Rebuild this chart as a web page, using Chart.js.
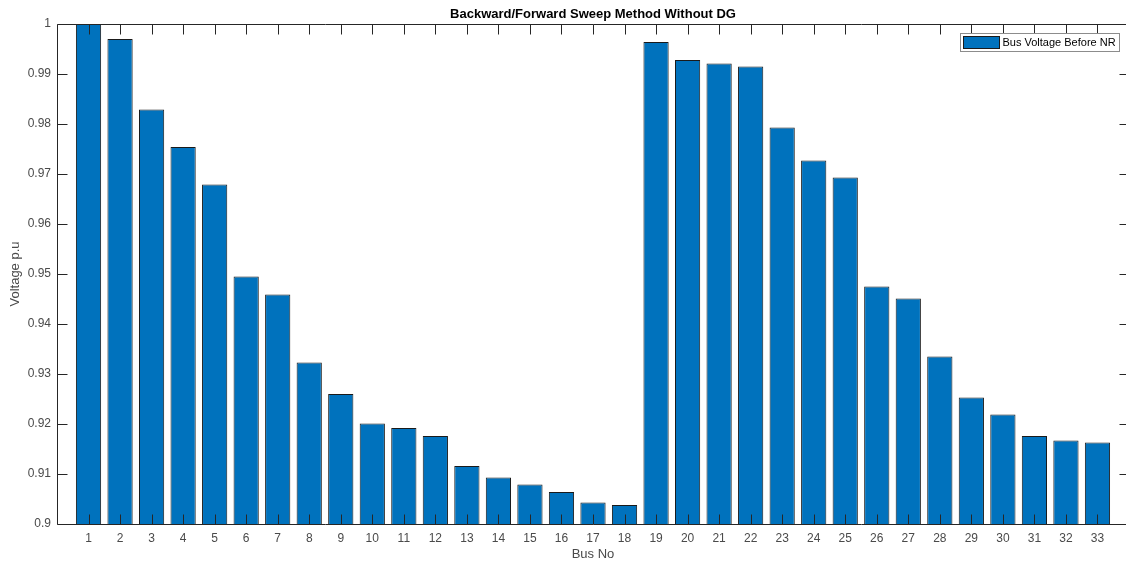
<!DOCTYPE html>
<html>
<head>
<meta charset="utf-8">
<title>Backward/Forward Sweep Method Without DG</title>
<script src="https://cdn.jsdelivr.net/npm/chart.js@4/dist/chart.umd.min.js"></script>
<style>
  html, body { margin: 0; padding: 0; background: #ffffff; overflow: hidden; }
  #wrap { width: 1126px; height: 562px; overflow: hidden; }
  canvas { display: block; }
</style>
</head>
<body>
<div id="wrap"><canvas id="chart" width="1136" height="562"></canvas></div>
<script>
// Bus numbers of the 33-bus feeder
const busNumbers = [1, 2, 3, 4, 5, 6, 7, 8, 9, 10, 11, 12, 13, 14, 15, 16, 17,
                    18, 19, 20, 21, 22, 23, 24, 25, 26, 27, 28, 29, 30, 31, 32, 33];
// Bus voltage magnitudes (p.u.) from the backward/forward sweep, no DG
const busVoltage = [1.0000, 0.9970, 0.9829, 0.9754, 0.9679, 0.9495, 0.9459, 0.9323,
                    0.9260, 0.9201, 0.9192, 0.9176, 0.9116, 0.9093, 0.9079, 0.9064,
                    0.9043, 0.9038, 0.9964, 0.9928, 0.9921, 0.9915, 0.9793, 0.9727,
                    0.9693, 0.9475, 0.9451, 0.9335, 0.9253, 0.9219, 0.9176, 0.9167,
                    0.9163];
const seriesLabel = 'Bus Voltage Before NR';
const titleText = 'Backward/Forward Sweep Method Without DG';
const xAxisTitle = 'Bus No';
const yAxisTitle = 'Voltage p.u';
const yTickValues = [0.9, 0.91, 0.92, 0.93, 0.94, 0.95, 0.96, 0.97, 0.98, 0.99, 1];

const FONT = '"Liberation Sans", Arial, Helvetica, sans-serif';
const AXIS_COLOR = '#262626';
const TICK_TEXT = '#4a4a4a';
const BAR_FILL = '#0072BD';
const BAR_EDGE = '#1a1a1a';

// Boxed axes with inward tick marks on all four sides, plus the title
const boxAxes = {
  id: 'boxAxes',
  afterDatasetsDraw(chart) {
    const { ctx, chartArea: a, scales } = chart;
    const L = Math.round(a.left) + 0.5, R = Math.round(a.right) + 0.5;
    const T = Math.round(a.top) + 0.5, B = Math.round(a.bottom) + 0.5;
    const len = 10;
    ctx.save();
    ctx.strokeStyle = AXIS_COLOR;
    ctx.lineWidth = 1;
    ctx.beginPath();
    ctx.rect(L, T, R - L, B - T);
    busNumbers.forEach(b => {
      const x = Math.round(scales.x.getPixelForValue(b)) + 0.5;
      ctx.moveTo(x, B); ctx.lineTo(x, B - len);
      ctx.moveTo(x, T); ctx.lineTo(x, T + len);
    });
    yTickValues.forEach(v => {
      const y = Math.round(scales.y.getPixelForValue(v)) + 0.5;
      ctx.moveTo(L, y); ctx.lineTo(L + len, y);
      ctx.moveTo(R, y); ctx.lineTo(R - len, y);
    });
    ctx.stroke();

    // title
    ctx.fillStyle = '#000000';
    ctx.font = 'bold 13px ' + FONT;
    ctx.textAlign = 'center';
    ctx.textBaseline = 'middle';
    ctx.fillText(titleText, (a.left + a.right) / 2, 14);
    ctx.restore();
  }
};

// Legend box in the upper right corner of the axes
const boxLegend = {
  id: 'boxLegend',
  afterDatasetsDraw(chart) {
    const { ctx, chartArea: a } = chart;
    const ds = chart.data.datasets[0];
    ctx.save();
    ctx.font = '11px ' + FONT;
    const tw = ctx.measureText(ds.label).width;
    const patchW = 36, patchH = 12;
    const w = Math.round(3 + patchW + 3 + tw + 4);
    const h = 18;
    const right = Math.round(a.right) - 10;
    const x = right - w + 0.5, y = Math.round(a.top) + 9.5;
    ctx.fillStyle = '#ffffff';
    ctx.fillRect(x, y, w, h);
    ctx.strokeStyle = '#8c8c8c';
    ctx.lineWidth = 1;
    ctx.strokeRect(x, y, w, h);
    ctx.fillStyle = ds.backgroundColor;
    ctx.fillRect(x + 3, y + 3, patchW, patchH);
    ctx.strokeStyle = ds.borderColor;
    ctx.strokeRect(x + 3, y + 3, patchW, patchH);
    ctx.fillStyle = '#000000';
    ctx.textAlign = 'left';
    ctx.textBaseline = 'middle';
    ctx.fillText(ds.label, x + 3 + patchW + 3, y + h / 2 + 0.5);
    ctx.restore();
  }
};

new Chart(document.getElementById('chart'), {
  type: 'bar',
  data: {
    datasets: [{
      label: seriesLabel,
      data: busNumbers.map((b, i) => ({ x: b, y: busVoltage[i] })),
      backgroundColor: BAR_FILL,
      borderColor: BAR_EDGE,
      borderWidth: 1,
      borderSkipped: 'start',
      barPercentage: 0.8,
      categoryPercentage: 1.0
    }]
  },
  options: {
    responsive: false,
    animation: false,
    devicePixelRatio: 1,
    layout: { padding: { left: 0, right: 0, top: 24, bottom: 0 } },
    plugins: {
      legend: { display: false },
      title: { display: false },
      tooltip: { enabled: false }
    },
    scales: {
      x: {
        type: 'linear',
        min: 0,
        max: 34,
        offset: false,
        grid: { display: false, drawTicks: false },
        border: { display: false },
        ticks: {
          stepSize: 1,
          autoSkip: false,
          maxRotation: 0,
          padding: 7,
          color: TICK_TEXT,
          font: { family: FONT, size: 12 },
          callback: v => (busNumbers.includes(v) ? String(v) : '')
        },
        title: {
          display: true,
          text: xAxisTitle,
          color: TICK_TEXT,
          font: { family: FONT, size: 13 },
          padding: { top: 0, bottom: 0 }
        },
        afterFit: s => { s.height = 38; }
      },
      y: {
        min: 0.9,
        max: 1.0,
        grid: { display: false, drawTicks: false },
        border: { display: false },
        afterBuildTicks: s => { s.ticks = yTickValues.map(v => ({ value: v })); },
        ticks: {
          padding: 6,
          color: TICK_TEXT,
          font: { family: FONT, size: 12 },
          callback: v => String(+v.toFixed(2))
        },
        title: {
          display: true,
          text: yAxisTitle,
          color: TICK_TEXT,
          font: { family: FONT, size: 13 },
          padding: { top: 8, bottom: 0 }
        },
        afterFit: s => { s.width = 57; }
      }
    }
  },
  plugins: [boxAxes, boxLegend]
});
</script>
</body>
</html>
